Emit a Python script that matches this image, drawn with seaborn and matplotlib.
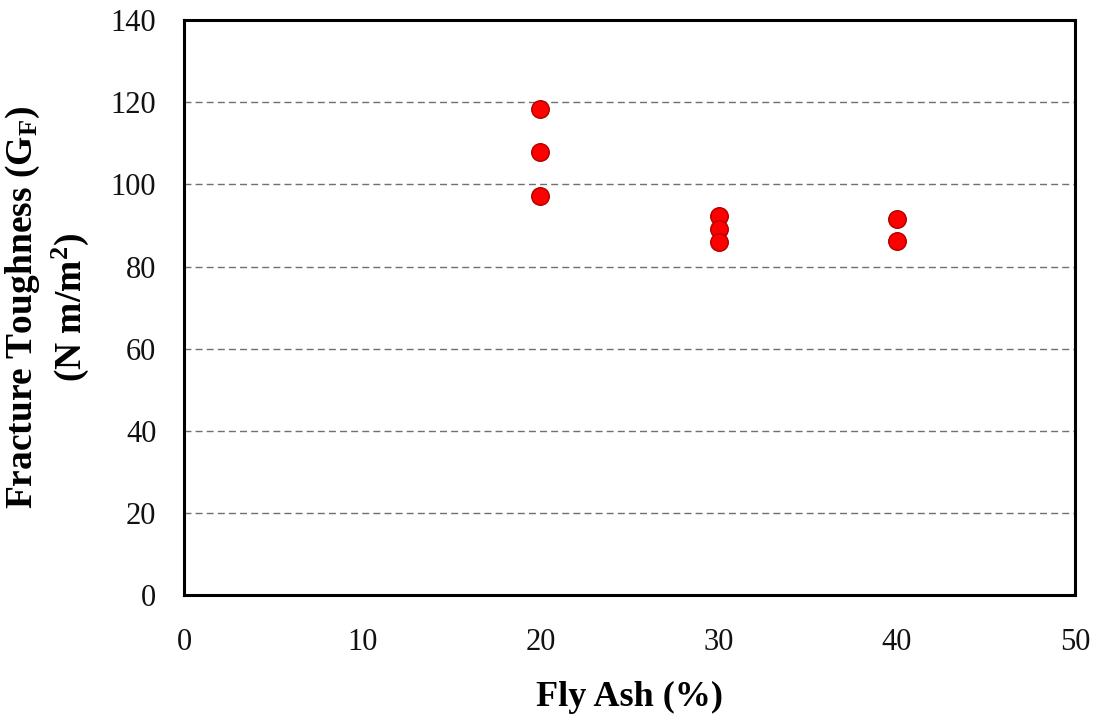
import numpy as np
import pandas as pd
import matplotlib
matplotlib.use('Agg')
import matplotlib.pyplot as plt
import seaborn as sns

fly_ash = [20, 20, 20, 30, 30, 30, 40, 40]
toughness = [118.5, 108.0, 97.2, 92.2, 89.1, 86.0, 91.5, 86.3]

df = pd.DataFrame({'Fly Ash': fly_ash, 'GF': toughness})

sns.set_style('white')
plt.rcParams['font.family'] = ['Liberation Serif', 'DejaVu Serif']
plt.rcParams['mathtext.fontset'] = 'custom'
plt.rcParams['mathtext.rm'] = 'Liberation Serif'
plt.rcParams['mathtext.bf'] = 'Liberation Serif:bold'
plt.rcParams['mathtext.it'] = 'Liberation Serif:italic'

fig = plt.figure(figsize=(11.04, 7.23), dpi=100)
ax = fig.add_axes([0.1667, 0.177, 0.807, 0.795])

sns.scatterplot(data=df, x='Fly Ash', y='GF', ax=ax, color='#ff0000',
                edgecolor='#b00000', linewidth=1.0, s=160, zorder=3)

ax.set_xlim(0, 50)
ax.set_ylim(0, 140)
ax.set_xticks(np.arange(0, 51, 10))
ax.set_yticks(np.arange(0, 141, 20))
for yv in range(20, 140, 20):
    ax.axhline(yv, color='#707070', linestyle=(0, (5, 3)), linewidth=1.0, zorder=1)

for sp in ax.spines.values():
    sp.set_color('black')
    sp.set_linewidth(2.2)

ax.tick_params(axis='both', labelsize=22, labelcolor='#111111', length=5,
               width=1, direction='in')
ax.tick_params(axis='x', pad=24, length=0)
ax.tick_params(axis='y', pad=20)
ax.set_xlabel('Fly Ash (%)', fontsize=26, fontweight='bold', labelpad=17,
              color='black')
ax.set_ylabel('Fracture Toughness (G$_{\\mathbf{F}}$)\n(N m/m$^{\\mathbf{2}}$)',
              fontsize=27, fontweight='bold', labelpad=14, linespacing=1.25,
              color='black')

fig.savefig('out.png', dpi=100)
